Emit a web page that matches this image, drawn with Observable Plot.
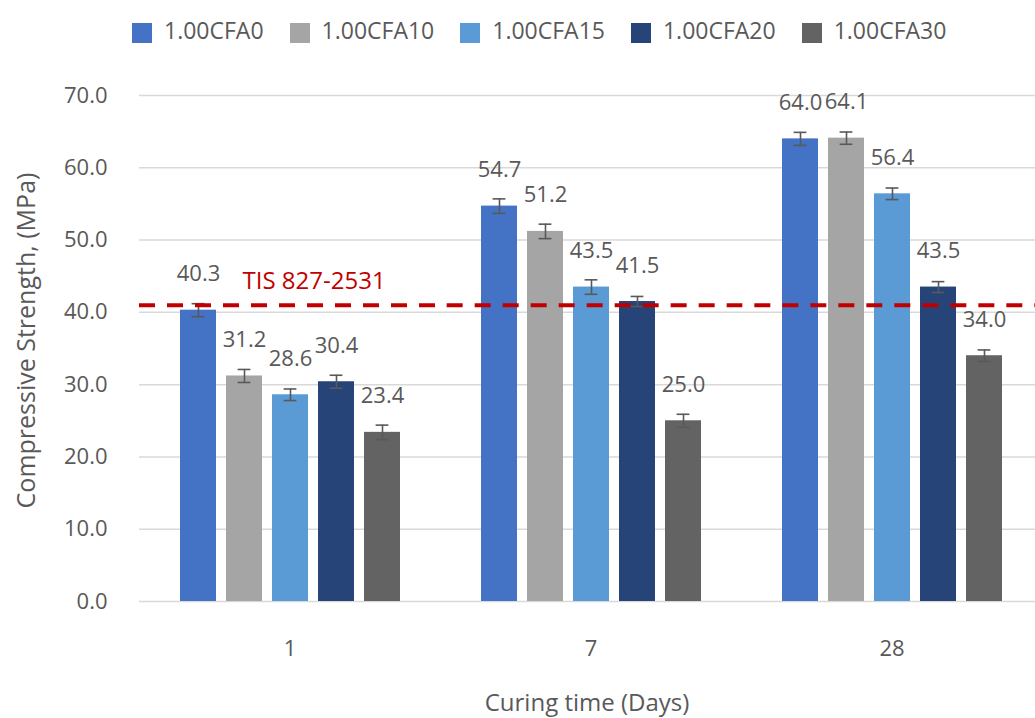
<!DOCTYPE html>
<html>
<head>
<meta charset="utf-8">
<script src="https://cdn.jsdelivr.net/npm/d3@7"></script>
<script src="https://cdn.jsdelivr.net/npm/@observablehq/plot@0.6"></script>
<style>
  html, body { margin: 0; padding: 0; background: #fff; }
  body { width: 1035px; height: 718px; overflow: hidden; font-family: "Open Sans", sans-serif; }
  #legend { box-sizing: border-box; height: 64px; padding-top: 2px; padding-left: 132px;
            display: flex; align-items: center; gap: 26px; color: #595959; font-size: 23px; }
  .item { display: flex; align-items: center; }
  .sw { width: 20px; height: 20px; margin-right: 12px; }
  .lb { position: relative; top: -3px; }
  #chart svg { display: block; }
</style>
</head>
<body>
<div id="legend"></div>
<div id="chart"></div>
<script>
// ---- data ----
const days = ["1", "7", "28"];
const series = ["1.00CFA0", "1.00CFA10", "1.00CFA15", "1.00CFA20", "1.00CFA30"];
const colors = ["#4472C4", "#A5A5A5", "#5B9BD5", "#264478", "#636363"];
const strengthDay1 = [40.3, 31.2, 28.6, 30.4, 23.4];
const strengthDay7 = [54.7, 51.2, 43.5, 41.5, 25.0];
const strengthDay28 = [64.0, 64.1, 56.4, 43.5, 34.0];
const errorDay1 = [0.9, 0.9, 0.8, 0.9, 1.0];
const errorDay7 = [1.0, 1.0, 1.0, 0.7, 0.9];
const errorDay28 = [0.9, 0.85, 0.8, 0.75, 0.8];
const yTicks = [0, 10, 20, 30, 40, 50, 60, 70];
const standardValue = 41;
const standardLabel = "TIS 827-2531";
const xLabel = "Curing time (Days)";
const yLabel = "Compressive Strength, (MPa)";

const strengths = [strengthDay1, strengthDay7, strengthDay28];
const errors = [errorDay1, errorDay7, errorDay28];
const table = [];
days.forEach((d, i) => series.forEach((s, j) => {
  table.push({day: d, series: s, value: strengths[i][j], err: errors[i][j]});
}));

// ---- legend ----
const legend = document.getElementById("legend");
series.forEach((s, j) => {
  const item = document.createElement("div");
  item.className = "item";
  const sw = document.createElement("div");
  sw.className = "sw";
  sw.style.background = colors[j];
  const lb = document.createElement("span");
  lb.className = "lb";
  lb.textContent = s;
  item.appendChild(sw);
  item.appendChild(lb);
  legend.appendChild(item);
});

// ---- chart ----
const textColor = "#595959";
const fxRange = [138, 1042];
const facetWidth = (fxRange[1] - fxRange[0]) / days.length;
const dashPattern = [16, 12];
const dashPeriod = dashPattern[0] + dashPattern[1];

// one dashed rule per facet, with the dash phase continued across facets
const standardRules = days.map((d, i) => Plot.ruleY([{day: d, v: standardValue}], {
  fx: "day", y: "v", stroke: "#C00000", strokeWidth: 4,
  strokeDasharray: dashPattern.join(","),
  strokeDashoffset: (i * facetWidth) % dashPeriod
}));

const chart = Plot.plot({
  width: 1035,
  height: 654,
  marginTop: 31,
  marginBottom: 117,
  marginLeft: 138,
  marginRight: 0,
  style: {fontFamily: "'Open Sans', sans-serif", color: textColor, background: "#fff", overflow: "hidden"},
  fx: {domain: days, range: fxRange, paddingInner: 0, paddingOuter: 0, axis: null},
  x: {domain: series, paddingInner: 0.222, paddingOuter: 0.867, axis: null},
  y: {domain: [0, 70], axis: null},
  color: {domain: series, range: colors},
  marks: [
    Plot.ruleY(yTicks, {stroke: "#D9D9D9", strokeWidth: 1.5}),
    Plot.barY(table, {fx: "day", x: "series", y: "value", fill: "series"}),
    Plot.ruleX(table, {fx: "day", x: "series", y1: d => d.value - d.err, y2: d => d.value + d.err,
                       stroke: "#595959", strokeWidth: 1.6}),
    Plot.tickY(table, {fx: "day", x: "series", y: d => d.value + d.err, stroke: "#595959",
                       strokeWidth: 1.6, insetLeft: 11.6, insetRight: 11.6}),
    Plot.tickY(table, {fx: "day", x: "series", y: d => d.value - d.err, stroke: "#595959",
                       strokeWidth: 1.6, insetLeft: 11.6, insetRight: 11.6}),
    ...standardRules,
    Plot.text([{day: days[0], series: series[1], label: standardLabel, v: standardValue}], {
      fx: "day", x: "series", y: "v", text: "label", textAnchor: "start",
      dx: -2, dy: -24, fill: "#C00000", fontSize: 24
    }),
    Plot.text(table, {fx: "day", x: "series", y: "value", text: d => d.value.toFixed(1),
                      dy: -36, fill: textColor, fontSize: 22}),
    Plot.axisY(yTicks, {anchor: "left", tickSize: 0, tickPadding: 32, fontSize: 22,
                        tickFormat: d => d.toFixed(1), label: null, color: textColor}),
    Plot.text([{day: days[0], label: yLabel}], {fx: "day", text: "label", frameAnchor: "left",
                         textAnchor: "middle", lineAnchor: "middle",
                         rotate: -90, dx: -113, dy: -8, fontSize: 25, fill: textColor}),
    Plot.axisFx({anchor: "bottom", tickSize: 0, tickPadding: 39, fontSize: 22,
                 label: null, color: textColor}),
    Plot.text([{day: days[1], label: xLabel}], {fx: "day", text: "label", frameAnchor: "bottom",
                         textAnchor: "middle", lineAnchor: "bottom", dx: -4, dy: 109,
                         fontSize: 24, fill: textColor})
  ]
});
document.getElementById("chart").appendChild(chart);
</script>
</body>
</html>
